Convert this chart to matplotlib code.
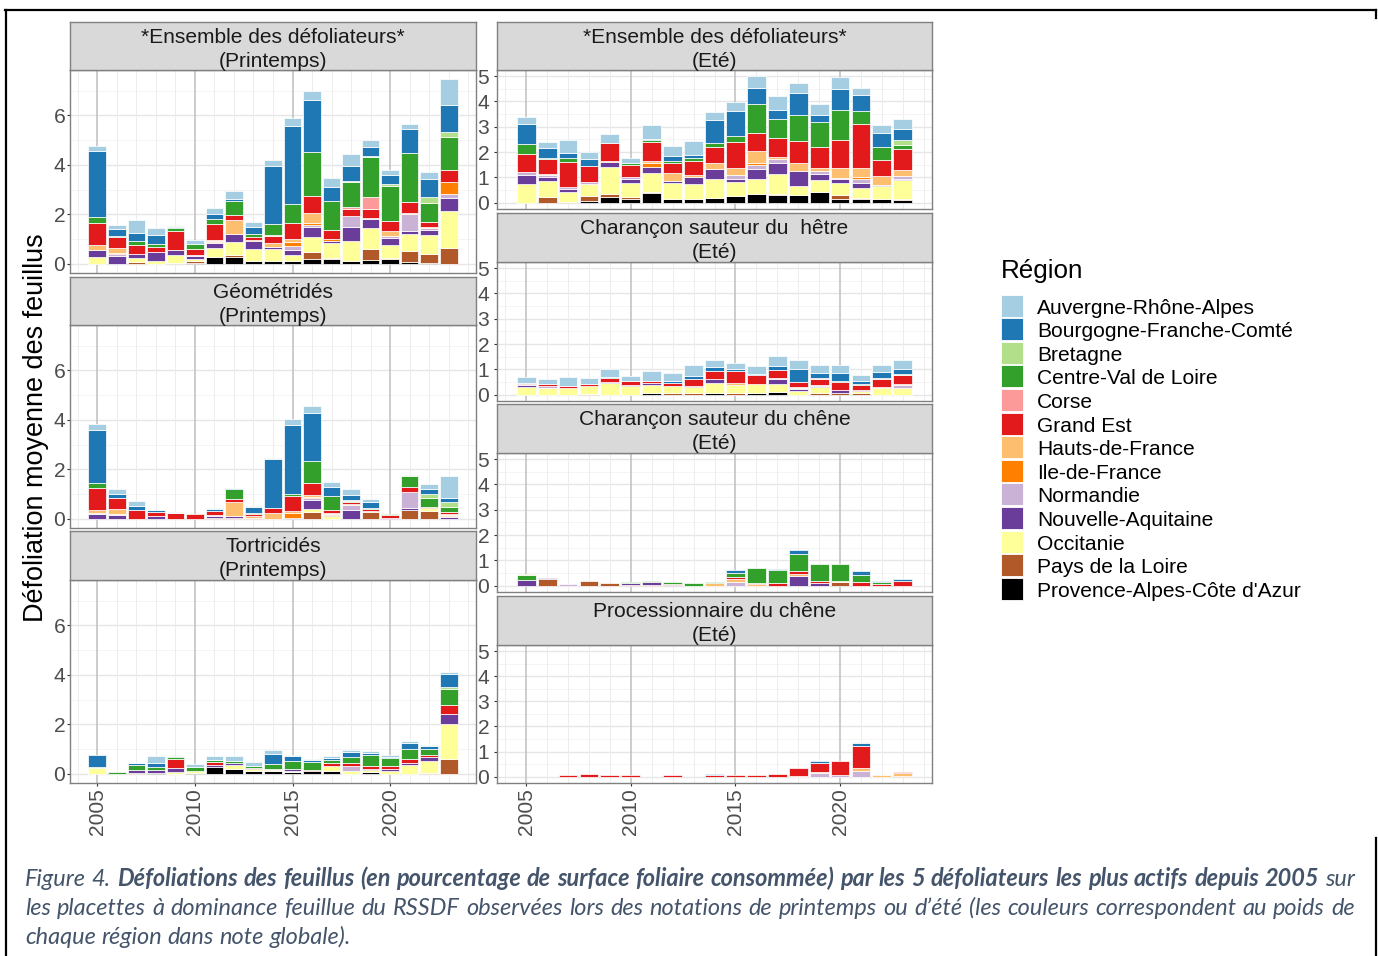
import matplotlib
matplotlib.use("Agg")
import matplotlib.pyplot as plt
from matplotlib.patches import Rectangle
from matplotlib.lines import Line2D
import numpy as np

W, H, DPI = 1378, 956, 100
PT = 72 / DPI  # pixels -> points

YEARS = list(range(2005, 2024))

REGIONS = ["Auvergne-Rhône-Alpes", "Bourgogne-Franche-Comté", "Bretagne",
           "Centre-Val de Loire", "Corse", "Grand Est", "Hauts-de-France",
           "Ile-de-France", "Normandie", "Nouvelle-Aquitaine", "Occitanie",
           "Pays de la Loire", "Provence-Alpes-Côte d'Azur"]
CODES = ["ARA", "BFC", "BRE", "CVL", "COR", "GE", "HDF", "IDF", "NOR", "NAQ",
         "OCC", "PDL", "PACA"]
COLORS = ["#A6CEE3", "#1F78B4", "#B2DF8A", "#33A02C", "#FB9A99", "#E31A1C",
          "#FDBF6F", "#FF7F00", "#CAB2D6", "#6A3D9A", "#FFFF99", "#B15928",
          "#000000"]

# Mean defoliation per region, 2005-2023
ENSEMBLE_PRINTEMPS = {
    "ARA": [0.21, 0.15, 0.54, 0.28, 0.03, 0.18, 0.23, 0.35, 0.20, 0.23, 0.36, 0.36, 0.36, 0.47, 0.28, 0.22, 0.23, 0.27, 1.06],
    "BFC": [2.67, 0.28, 0.30, 0.36, 0.07, 0.00, 0.23, 0.08, 0.26, 2.34, 3.12, 2.11, 0.55, 0.61, 0.36, 0.36, 0.96, 0.75, 1.09],
    "BRE": [0, 0, 0, 0, 0, 0, 0, 0, 0, 0, 0, 0, 0, 0.04, 0.04, 0.07, 0, 0.22, 0.20],
    "CVL": [0.27, 0.05, 0.16, 0.11, 0.11, 0.20, 0.18, 0.55, 0.13, 0.46, 0.77, 1.79, 1.17, 1.01, 1.60, 1.40, 1.97, 0.79, 1.33],
    "COR": [0, 0, 0, 0, 0, 0, 0, 0, 0, 0.05, 0, 0, 0, 0.07, 0.50, 0, 0, 0, 0],
    "GE":  [0.89, 0.46, 0.38, 0.19, 0.75, 0.23, 0.66, 0.19, 0.13, 0.28, 0.66, 0.67, 0.38, 0.28, 0.34, 0.40, 0.44, 0.19, 0.46],
    "HDF": [0.19, 0.19, 0, 0.03, 0, 0, 0.02, 0.57, 0, 0.16, 0.11, 0.42, 0, 0, 0, 0.22, 0.05, 0.04, 0],
    "IDF": [0, 0.04, 0, 0, 0, 0, 0.05, 0, 0.04, 0, 0.19, 0.08, 0.07, 0, 0, 0, 0, 0, 0.48],
    "NOR": [0, 0.08, 0, 0, 0.02, 0.04, 0.05, 0, 0, 0, 0.15, 0.09, 0, 0.46, 0.07, 0.07, 0.67, 0.08, 0.18],
    "NAQ": [0.29, 0.32, 0.15, 0.34, 0.19, 0.11, 0.22, 0.35, 0.32, 0.07, 0.20, 0.38, 0.08, 0.58, 0.35, 0.30, 0.15, 0.19, 0.53],
    "OCC": [0.26, 0, 0.15, 0.12, 0.31, 0.11, 0.34, 0.51, 0.48, 0.47, 0.23, 0.63, 0.63, 0.79, 0.86, 0.50, 0.66, 0.77, 1.51],
    "PDL": [0, 0, 0.09, 0, 0.05, 0.05, 0, 0.09, 0, 0, 0, 0.27, 0.04, 0, 0.44, 0.07, 0.44, 0.36, 0.62],
    "PACA": [0, 0, 0, 0, 0, 0.05, 0.28, 0.26, 0.12, 0.13, 0.12, 0.20, 0.18, 0.12, 0.15, 0.18, 0.09, 0.05, 0],
}

GEOMETRIDES_PRINTEMPS = {
    "ARA": [0.24, 0.19, 0.20, 0.02, 0.04, 0, 0.03, 0.03, 0.05, 0.03, 0.22, 0.28, 0.22, 0.23, 0.12, 0, 0, 0.20, 0.89],
    "BFC": [2.15, 0.19, 0.16, 0.08, 0, 0, 0.09, 0.04, 0.22, 1.97, 2.81, 1.94, 0.35, 0.23, 0.22, 0, 0, 0.22, 0.16],
    "BRE": [0, 0, 0, 0, 0, 0, 0, 0, 0, 0, 0, 0, 0, 0.02, 0, 0, 0.03, 0.15, 0.18],
    "CVL": [0.20, 0, 0, 0, 0, 0, 0, 0.39, 0.04, 0, 0.09, 0.88, 0.57, 0.04, 0.05, 0.05, 0.46, 0.38, 0.20],
    "COR": [0, 0, 0, 0, 0, 0, 0, 0, 0, 0, 0, 0, 0, 0.03, 0, 0, 0, 0, 0],
    "GE":  [0.88, 0.42, 0.34, 0.15, 0.22, 0.19, 0.16, 0.13, 0.08, 0.22, 0.59, 0.51, 0.11, 0.05, 0.07, 0.09, 0.18, 0.03, 0.11],
    "HDF": [0.12, 0.20, 0, 0, 0, 0, 0, 0.56, 0.08, 0.23, 0.09, 0.05, 0.03, 0.04, 0.05, 0, 0, 0, 0.03],
    "IDF": [0, 0, 0, 0, 0, 0, 0, 0, 0, 0, 0.18, 0.05, 0.07, 0, 0, 0, 0, 0, 0.04],
    "NOR": [0.04, 0.04, 0, 0, 0, 0, 0.03, 0, 0, 0, 0, 0.09, 0, 0.23, 0, 0, 0.66, 0, 0.04],
    "NAQ": [0.20, 0.16, 0, 0.11, 0, 0, 0.07, 0.06, 0, 0, 0.05, 0.38, 0.03, 0.34, 0, 0.05, 0.09, 0, 0.07],
    "OCC": [0, 0, 0, 0, 0, 0, 0, 0, 0, 0, 0, 0.12, 0.11, 0, 0, 0, 0, 0.13, 0],
    "PDL": [0, 0, 0, 0, 0, 0, 0.05, 0.05, 0.05, 0, 0, 0.26, 0, 0, 0.28, 0, 0.35, 0.30, 0],
}

TORTRICIDES_PRINTEMPS = {
    "ARA": [0, 0, 0.03, 0.26, 0, 0.12, 0.16, 0.20, 0.16, 0.16, 0.05, 0.03, 0.07, 0.11, 0.08, 0.05, 0.09, 0.03, 0.07],
    "BFC": [0.50, 0, 0.07, 0.16, 0, 0, 0, 0, 0, 0.40, 0.20, 0.09, 0.08, 0.19, 0.09, 0.05, 0.26, 0.11, 0.55],
    "BRE": [0.05, 0, 0, 0, 0, 0, 0, 0, 0, 0, 0, 0, 0, 0, 0, 0, 0, 0, 0.05],
    "CVL": [0, 0.08, 0.18, 0.12, 0.09, 0.18, 0.11, 0.08, 0.09, 0.20, 0.30, 0.30, 0.13, 0.23, 0.43, 0.31, 0.38, 0.26, 0.66],
    "GE":  [0, 0, 0, 0, 0.36, 0, 0.11, 0, 0.05, 0, 0, 0.05, 0.11, 0.13, 0.13, 0.13, 0.18, 0.08, 0.38],
    "HDF": [0, 0, 0, 0, 0, 0, 0, 0, 0, 0.06, 0, 0, 0, 0, 0, 0, 0, 0, 0],
    "NOR": [0, 0, 0, 0, 0, 0, 0, 0, 0, 0, 0, 0, 0, 0.18, 0, 0, 0, 0, 0],
    "NAQ": [0, 0, 0.15, 0.11, 0.13, 0, 0.09, 0.09, 0, 0, 0.08, 0, 0, 0, 0.04, 0.07, 0.09, 0.18, 0.39],
    "OCC": [0.22, 0, 0, 0, 0.09, 0.05, 0, 0.18, 0.07, 0.04, 0.05, 0, 0.20, 0.13, 0.09, 0.13, 0.34, 0.46, 1.40],
    "PDL": [0, 0, 0.02, 0, 0, 0, 0, 0, 0, 0, 0, 0, 0, 0, 0, 0, 0, 0.04, 0.61],
    "PACA": [0, 0, 0, 0.05, 0, 0.05, 0.26, 0.18, 0.11, 0.11, 0.07, 0.12, 0.11, 0, 0.07, 0, 0, 0, 0],
}

ENSEMBLE_ETE = {
    "ARA": [0.29, 0.25, 0.50, 0.29, 0.36, 0.22, 0.54, 0.41, 0.54, 0.34, 0.36, 0.46, 0.53, 0.41, 0.43, 0.49, 0.26, 0.29, 0.37],
    "BFC": [0.79, 0.36, 0.18, 0.28, 0, 0, 0.05, 0.17, 0.13, 0.89, 0.99, 0.64, 0.37, 0.87, 0.29, 0.82, 0.62, 0.58, 0.45],
    "BRE": [0, 0, 0, 0, 0, 0, 0, 0, 0, 0, 0, 0, 0, 0, 0, 0, 0, 0, 0.18],
    "CVL": [0.39, 0.07, 0.17, 0, 0, 0.07, 0.07, 0.08, 0.12, 0.18, 0.22, 1.14, 0.76, 1.01, 1.00, 1.16, 0.51, 0.50, 0.18],
    "GE":  [0.70, 0.59, 0.99, 0.63, 0.71, 0.47, 0.74, 0.41, 0.54, 0.62, 1.03, 0.71, 0.74, 0.87, 0.84, 1.13, 1.75, 0.62, 0.80],
    "HDF": [0, 0.04, 0, 0, 0, 0, 0.10, 0.33, 0.09, 0.22, 0.29, 0.46, 0.07, 0.32, 0.09, 0.38, 0.36, 0.36, 0.24],
    "IDF": [0, 0, 0, 0, 0.05, 0, 0.13, 0, 0, 0, 0, 0.09, 0, 0, 0, 0, 0.07, 0, 0],
    "NOR": [0.12, 0.05, 0.07, 0.07, 0, 0.08, 0, 0, 0, 0, 0.14, 0.16, 0.17, 0, 0.14, 0.05, 0.18, 0, 0.12],
    "NAQ": [0.37, 0.16, 0.12, 0, 0.18, 0.16, 0.26, 0.08, 0.30, 0.41, 0.12, 0.41, 0.41, 0.59, 0.21, 0.16, 0.17, 0.05, 0.07],
    "OCC": [0.72, 0.63, 0.39, 0.50, 1.09, 0.57, 0.75, 0.62, 0.58, 0.75, 0.55, 0.59, 0.79, 0.37, 0.50, 0.45, 0.39, 0.51, 0.74],
    "PDL": [0, 0.24, 0.04, 0.17, 0.11, 0.07, 0.04, 0, 0, 0, 0, 0, 0.07, 0, 0, 0.16, 0.04, 0, 0.03],
    "PACA": [0, 0, 0, 0.08, 0.22, 0.14, 0.37, 0.14, 0.14, 0.18, 0.28, 0.33, 0.29, 0.29, 0.41, 0.16, 0.16, 0.14, 0.11],
}

CHARANCON_HETRE_ETE = {
    "ARA": [0.21, 0.16, 0.34, 0.24, 0.32, 0.21, 0.38, 0.31, 0.44, 0.25, 0.24, 0.33, 0.37, 0.34, 0.32, 0.31, 0.23, 0.29, 0.37],
    "BFC": [0, 0, 0, 0, 0.04, 0, 0, 0.09, 0.12, 0.17, 0.05, 0.04, 0.15, 0.50, 0.17, 0.33, 0.11, 0.24, 0.19],
    "BRE": [0, 0, 0, 0, 0, 0, 0, 0, 0, 0, 0, 0, 0, 0, 0, 0, 0, 0, 0.03],
    "CVL": [0, 0, 0, 0, 0, 0, 0, 0, 0, 0, 0, 0, 0, 0, 0, 0.04, 0.04, 0, 0],
    "COR": [0, 0, 0, 0, 0, 0, 0, 0, 0, 0, 0, 0, 0, 0, 0.04, 0, 0, 0.03, 0],
    "GE":  [0.03, 0.09, 0.09, 0.07, 0.13, 0.16, 0.08, 0.09, 0.27, 0.31, 0.50, 0.33, 0.32, 0.20, 0.25, 0.31, 0.21, 0.33, 0.34],
    "HDF": [0, 0, 0, 0, 0, 0, 0, 0, 0, 0, 0.08, 0, 0, 0.04, 0, 0, 0, 0.03, 0.07],
    "NOR": [0.05, 0.07, 0, 0, 0, 0, 0, 0, 0, 0, 0, 0, 0.05, 0.05, 0.04, 0, 0, 0, 0.12],
    "NAQ": [0.07, 0, 0, 0, 0.05, 0.04, 0.07, 0, 0.03, 0.15, 0, 0, 0.20, 0.07, 0.04, 0.13, 0.03, 0, 0],
    "OCC": [0.32, 0.28, 0.25, 0.31, 0.46, 0.33, 0.33, 0.31, 0.27, 0.40, 0.32, 0.36, 0.33, 0.16, 0.25, 0, 0.09, 0.27, 0.25],
    "PDL": [0, 0, 0, 0.04, 0, 0, 0, 0.05, 0.05, 0, 0.05, 0, 0, 0, 0.05, 0.05, 0.05, 0, 0],
    "PACA": [0, 0, 0, 0, 0, 0, 0.07, 0, 0, 0.07, 0, 0.07, 0.09, 0, 0, 0, 0, 0, 0],
}

CHARANCON_CHENE_ETE = {
    "BFC": [0, 0, 0, 0, 0, 0, 0, 0, 0, 0, 0.10, 0, 0.04, 0.13, 0, 0, 0.16, 0.05, 0.08],
    "BRE": [0.03, 0, 0, 0, 0, 0, 0, 0, 0, 0, 0, 0, 0, 0, 0, 0, 0, 0, 0],
    "CVL": [0.21, 0, 0, 0, 0, 0.07, 0.05, 0.06, 0.12, 0.05, 0.16, 0.59, 0.49, 0.67, 0.70, 0.66, 0.29, 0.07, 0],
    "GE":  [0, 0, 0, 0, 0, 0, 0, 0.04, 0, 0, 0.08, 0.04, 0.12, 0.12, 0.05, 0, 0.14, 0.08, 0.18],
    "HDF": [0, 0, 0, 0, 0, 0, 0, 0, 0, 0.10, 0.14, 0.05, 0, 0.08, 0, 0.05, 0, 0, 0],
    "NOR": [0, 0, 0.07, 0, 0, 0, 0, 0, 0, 0, 0.13, 0, 0, 0, 0, 0, 0, 0, 0],
    "NAQ": [0.22, 0.07, 0, 0, 0, 0.05, 0.09, 0.03, 0, 0, 0, 0, 0, 0.39, 0.12, 0, 0, 0, 0],
    "PDL": [0, 0.25, 0, 0.17, 0.12, 0.04, 0.04, 0, 0, 0, 0, 0, 0, 0, 0, 0.13, 0, 0, 0],
}

PROCESSIONNAIRE_ETE = {
    "ARA": [0, 0, 0, 0, 0, 0, 0, 0, 0, 0, 0, 0, 0, 0, 0, 0, 0.03, 0, 0],
    "BFC": [0, 0, 0, 0, 0, 0, 0, 0, 0, 0.02, 0, 0, 0, 0, 0.09, 0, 0.13, 0, 0],
    "GE":  [0, 0, 0.08, 0.10, 0.07, 0.05, 0, 0.07, 0, 0.07, 0.05, 0.08, 0.10, 0.32, 0.34, 0.57, 0.89, 0, 0.04],
    "HDF": [0, 0, 0, 0, 0, 0, 0, 0, 0, 0, 0, 0, 0, 0.04, 0.05, 0, 0.13, 0.06, 0.09],
    "NOR": [0, 0, 0, 0, 0, 0, 0, 0, 0, 0, 0, 0, 0, 0, 0.14, 0.05, 0.21, 0, 0],
    "PDL": [0, 0, 0, 0, 0, 0, 0, 0, 0, 0, 0, 0, 0, 0, 0, 0, 0, 0, 0.04],
}

LEFT_PANELS = [
    ("*Ensemble des défoliateurs*", "(Printemps)", ENSEMBLE_PRINTEMPS),
    ("Géométridés", "(Printemps)", GEOMETRIDES_PRINTEMPS),
    ("Tortricidés", "(Printemps)", TORTRICIDES_PRINTEMPS),
]
RIGHT_PANELS = [
    ("*Ensemble des défoliateurs*", "(Eté)", ENSEMBLE_ETE),
    ("Charançon sauteur du  hêtre", "(Eté)", CHARANCON_HETRE_ETE),
    ("Charançon sauteur du chêne", "(Eté)", CHARANCON_CHENE_ETE),
    ("Processionnaire du chêne", "(Eté)", PROCESSIONNAIRE_ETE),
]

FONT = "Liberation Sans"
plt.rcParams["font.family"] = [FONT, "DejaVu Sans"]

fig = plt.figure(figsize=(W / DPI, H / DPI), dpi=DPI)
fig.patch.set_facecolor("white")


def rect(x0, y0, x1, y1):
    return [x0 / W, 1 - y1 / H, (x1 - x0) / W, (y1 - y0) / H]


def totals(data):
    tot = np.zeros(len(YEARS))
    for vals in data.values():
        tot += np.asarray(vals, float)
    return tot


def draw_bars(ax, data):
    bottom = np.zeros(len(YEARS))
    x = np.asarray(YEARS, float)
    for code, col in reversed(list(zip(CODES, COLORS))):
        if code not in data:
            continue
        vals = np.asarray(data[code], float)
        m = vals > 0
        ax.bar(x[m], vals[m], bottom=bottom[m], width=0.9, color=col,
               edgecolor=(1, 1, 1, 0.75), linewidth=0.7, zorder=3)
        bottom += vals


def style_panel(ax, ylim, ymajor, yminor, show_x, label_pad):
    span = (YEARS[-1] + 0.45) - (YEARS[0] - 0.45)
    ax.set_xlim(YEARS[0] - 0.45 - 0.05 * span, YEARS[-1] + 0.45 + 0.05 * span)
    ax.set_ylim(*ylim)
    ax.set_facecolor("white")
    for y in yminor:
        ax.axhline(y, color="#F2F2F2", lw=0.6, zorder=0)
    for y in ymajor:
        ax.axhline(y, color="#E6E6E6", lw=1.0, zorder=0)
    for yr in range(2004, 2025):
        if yr % 5 != 0:
            ax.axvline(yr, color="#EDEDED", lw=0.7, zorder=0)
    for yr in (2005, 2010, 2015, 2020):
        ax.axvline(yr, color="#BEBEBE", lw=1.1, zorder=1)
    for s in ax.spines.values():
        s.set_color("#808080")
        s.set_linewidth(1.0)
    ax.set_yticks(ymajor)
    ax.set_yticklabels([str(v) for v in ymajor], fontsize=21 * PT, color="#4D4D4D")
    ax.tick_params(axis="y", length=2.5, width=0.8, color="#333333", pad=label_pad)
    ax.set_xticks([2005, 2010, 2015, 2020])
    if show_x:
        ax.set_xticklabels(["2005", "2010", "2015", "2020"], rotation=90,
                           fontsize=21 * PT, color="#4D4D4D", va="top", ha="center")
        ax.tick_params(axis="x", length=2.5, width=0.8, color="#333333", pad=1)
    else:
        ax.set_xticklabels([])
        ax.tick_params(axis="x", length=0)


def draw_strip(x0, y0, x1, y1, line1, line2):
    sax = fig.add_axes(rect(x0, y0, x1, y1))
    sax.set_facecolor("#D9D9D9")
    sax.set_xticks([])
    sax.set_yticks([])
    for s in sax.spines.values():
        s.set_color("#808080")
        s.set_linewidth(1.0)
    cx = (x0 + x1) / 2
    for txt, yc in ((line1, y0 + 13.5), (line2, y0 + 37.5)):
        fig.text(cx / W, 1 - (yc + 7.5) / H, txt, ha="center", va="baseline",
                 fontsize=21 * PT, color="#1A1A1A")


# Left column: spring notations
left_max = max(totals(d).max() for _, _, d in LEFT_PANELS)
left_ylim = (-0.05 * left_max, 1.05 * left_max)
left_boxes = [((70, 22, 476, 70), (70, 70, 476, 273)),
              ((70, 277, 476, 325), (70, 325, 476, 528)),
              ((70, 531, 476, 580), (70, 580, 476, 783))]
for i, ((l1, l2, data), (sbox, pbox)) in enumerate(zip(LEFT_PANELS, left_boxes)):
    ax = fig.add_axes(rect(*pbox))
    draw_bars(ax, data)
    style_panel(ax, left_ylim, [0, 2, 4, 6], [1, 3, 5, 7],
                show_x=(i == len(LEFT_PANELS) - 1), label_pad=1.0)
    draw_strip(*sbox, l1, l2)

# Right column: summer notations
right_max = max(totals(d).max() for _, _, d in RIGHT_PANELS)
right_ylim = (-0.05 * right_max, 1.05 * right_max)
right_boxes = [((497, 22, 932, 70), (497, 70, 932, 209)),
               ((497, 213, 932, 262), (497, 262, 932, 401)),
               ((497, 404, 932, 453), (497, 453, 932, 592)),
               ((497, 596, 932, 645), (497, 645, 932, 783))]
for i, ((l1, l2, data), (sbox, pbox)) in enumerate(zip(RIGHT_PANELS, right_boxes)):
    ax = fig.add_axes(rect(*pbox))
    draw_bars(ax, data)
    style_panel(ax, right_ylim, [0, 1, 2, 3, 4, 5], [0.5, 1.5, 2.5, 3.5, 4.5],
                show_x=(i == len(RIGHT_PANELS) - 1), label_pad=3.0)
    draw_strip(*sbox, l1, l2)

# Shared y-axis title
fig.text(36 / W, 1 - 428 / H, "Défoliation moyenne des feuillus", rotation=90,
         ha="center", va="center", fontsize=27 * PT, color="black")

# Legend
fig.text(1001 / W, 1 - 278 / H, "Région", ha="left", va="baseline",
         fontsize=26 * PT, color="black")
for k, (name, col) in enumerate(zip(REGIONS, COLORS)):
    yc = 305.5 + k * 23.6
    fig.add_artist(Rectangle((1001 / W, 1 - (yc + 11) / H), 22 / W, 22 / H,
                             transform=fig.transFigure, facecolor=col,
                             edgecolor="white", linewidth=0.6))
    fig.text(1037 / W, 1 - (yc + 8) / H, name, ha="left", va="baseline",
             fontsize=21 * PT, color="black")

# Page frame
frame = dict(color="black", linewidth=1.6, transform=fig.transFigure)
fig.add_artist(Line2D([5 / W, 1376 / W], [1 - 9.5 / H, 1 - 9.5 / H], **frame))
fig.add_artist(Line2D([5.5 / W, 5.5 / W], [1 - 9.5 / H, 0], **frame))
fig.add_artist(Line2D([1375.5 / W, 1375.5 / W], [1 - 9.5 / H, 1 - 18 / H], **frame))
fig.add_artist(Line2D([1375.5 / W, 1375.5 / W], [1 - 838 / H, 0], **frame))

# Caption, justified over the text block
CAP_FONT = "Lato"
CAP_COLOR = "#44546A"
cap_lines = [
    [("Figure 4.", "normal"),
     ("Défoliations des feuillus (en pourcentage de surface foliaire consommée) "
      "par les 5 défoliateurs les plus actifs depuis 2005", "bold"),
     ("sur", "normal")],
    [("les placettes à dominance feuillue du RSSDF observées lors des notations "
      "de printemps ou d’été (les couleurs correspondent au poids de", "normal")],
    [("chaque région dans note globale).", "normal")],
]
baselines = [886, 915, 944]
x_left, x_right = 25, 1355

renderer = fig.canvas.get_renderer()


def word_width(word, weight, size):
    t = fig.text(0, 0, word, fontsize=size, style="italic", weight=weight,
                 family=CAP_FONT)
    w = t.get_window_extent(renderer).width
    t.remove()
    return w


def split_words(line):
    words = []
    for chunk, weight in line:
        for w in chunk.split(" "):
            if w:
                words.append((w, weight))
    return words


ref_size = 14.0
w1 = split_words(cap_lines[0])
space_ref = word_width("a a", "normal", ref_size) - word_width("aa", "normal", ref_size)
natural = sum(word_width(w, wt, ref_size) for w, wt in w1) + space_ref * (len(w1) - 1)
cap_size = ref_size * (x_right - x_left) / natural
space = space_ref * cap_size / ref_size

for li, (line, base) in enumerate(zip(cap_lines, baselines)):
    words = split_words(line)
    widths = [word_width(w, wt, cap_size) for w, wt in words]
    if li < len(cap_lines) - 1 and len(words) > 1:
        gap = (x_right - x_left - sum(widths)) / (len(words) - 1)
    else:
        gap = space
    x = x_left
    for (w, wt), ww in zip(words, widths):
        fig.text(x / W, 1 - base / H, w, fontsize=cap_size, style="italic",
                 weight=wt, family=CAP_FONT, color=CAP_COLOR,
                 ha="left", va="baseline")
        x += ww + gap

fig.savefig("out.png", dpi=DPI, facecolor="white")
